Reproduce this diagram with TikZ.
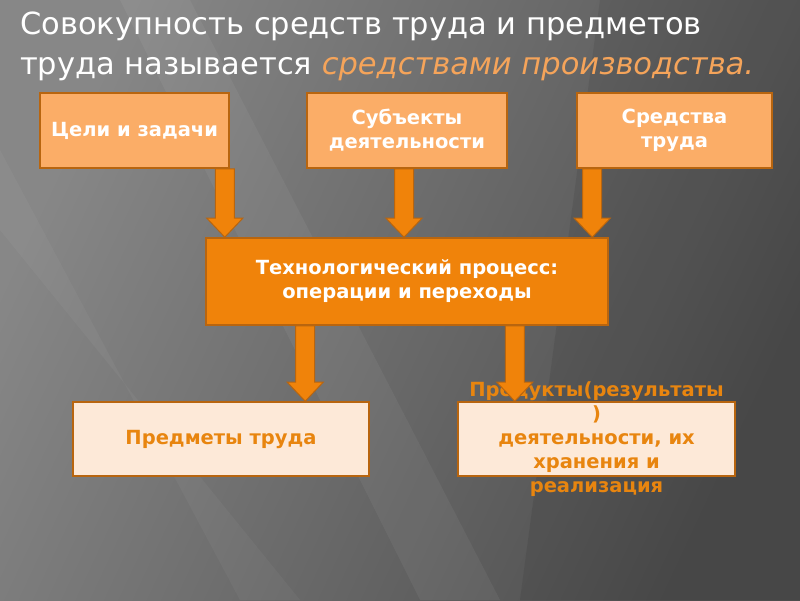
\documentclass[tikz,border=0pt]{standalone}
\usepackage{fontspec}
\setmainfont{DejaVu Sans}
\usetikzlibrary{calc,positioning}

\definecolor{slidedark}{HTML}{4E4E4E}
\definecolor{slidelight}{HTML}{878787}
\definecolor{boxlight}{HTML}{FBAD67}
\definecolor{boxline}{HTML}{B8650F}
\definecolor{techfill}{HTML}{F0830A}
\definecolor{peach}{HTML}{FDE9D8}
\definecolor{resulttext}{HTML}{E8850F}
\definecolor{titleorange}{HTML}{F5A45A}

\newcommand{\blockarrow}[2]{%
  \draw[blockarr] let \p1=#1, \p2=#2 in
    (\x1-9.5pt,\y1) -- (\x1-9.5pt,\y2+19pt) -- (\x1-18pt,\y2+19pt) -- (\x1,\y2)
    -- (\x1+18pt,\y2+19pt) -- (\x1+9.5pt,\y2+19pt) -- (\x1+9.5pt,\y1) -- cycle;}

\begin{document}
\begin{tikzpicture}[x=1pt,y=-1pt,
      boxfont/.style={font=\bfseries\fontsize{19.5}{24}\selectfont},
      goalbox/.style={draw=boxline, line width=1.6pt, fill=boxlight, text=white,
         boxfont, align=center, minimum width=189pt, minimum height=75pt, inner sep=0pt},
      techbox/.style={goalbox, fill=techfill, minimum width=402pt, minimum height=87pt},
      resultbox/.style={goalbox, fill=peach, text=resulttext, minimum height=74pt},
      resulttxt/.style={boxfont, text=resulttext, align=center, inner sep=0pt},
      titletxt/.style={anchor=base west, text=white, font=\fontsize{30.5}{40}\selectfont, inner sep=0pt},
      blockarr/.style={draw=boxline, line width=1pt, fill=techfill}
   ]
      % background
      \useasboundingbox (0,0) rectangle (800,600);
      \shade[shading=axis, left color=slidelight, right color=slidedark, shading angle=65]
         (0,0) rectangle (800,600);
      \fill[white, opacity=0.05] (120,0) -- (190,0) -- (500,600) -- (420,600) -- cycle;
      \fill[white, opacity=0.04] (0,150) -- (0,230) -- (300,600) -- (240,600) -- cycle;
      \fill[black, opacity=0.08] (600,0) -- (800,0) -- (800,600) -- (520,600) -- cycle;

      % title
      \node[titletxt] (title1) at (20,34) {Совокупность средств труда и предметов};
      \node[titletxt] (title2) at (20,74)
         {труда называется {\color{titleorange}\itshape средствами производства.}};

      % boxes
      \node[goalbox] (goals) at (134.5,130.5) {Цели и задачи};
      \node[goalbox, minimum width=200pt] (subj) at (407,130.5) {Субъекты\\деятельности};
      \node[goalbox, minimum width=195pt] (means) at (674.5,130.5) {Средства\\труда};
      \node[techbox] (tech) at (407,281.5) {Технологический процесс:\\операции и переходы};
      \node[resultbox, minimum width=296pt] (objects) at (221,439) {Предметы труда};
      \node[resultbox, minimum width=277pt] (products) at (596.5,439) {};
      \node[resulttxt] (productstxt) at (products.center)
         {Продукты(результаты\\)\\деятельности, их\\хранения и\\реализация};

      % arrows
      \blockarrow{([xshift=-5pt]goals.south east)}{(tech.north)}
      \blockarrow{([xshift=-3pt]subj.south)}{(tech.north)}
      \blockarrow{([xshift=16pt]means.south west)}{(tech.north)}
      \blockarrow{([xshift=100pt]tech.south west)}{(objects.north)}
      \blockarrow{([xshift=-94pt]tech.south east)}{(products.north)}
   \end{tikzpicture}
\end{document}
